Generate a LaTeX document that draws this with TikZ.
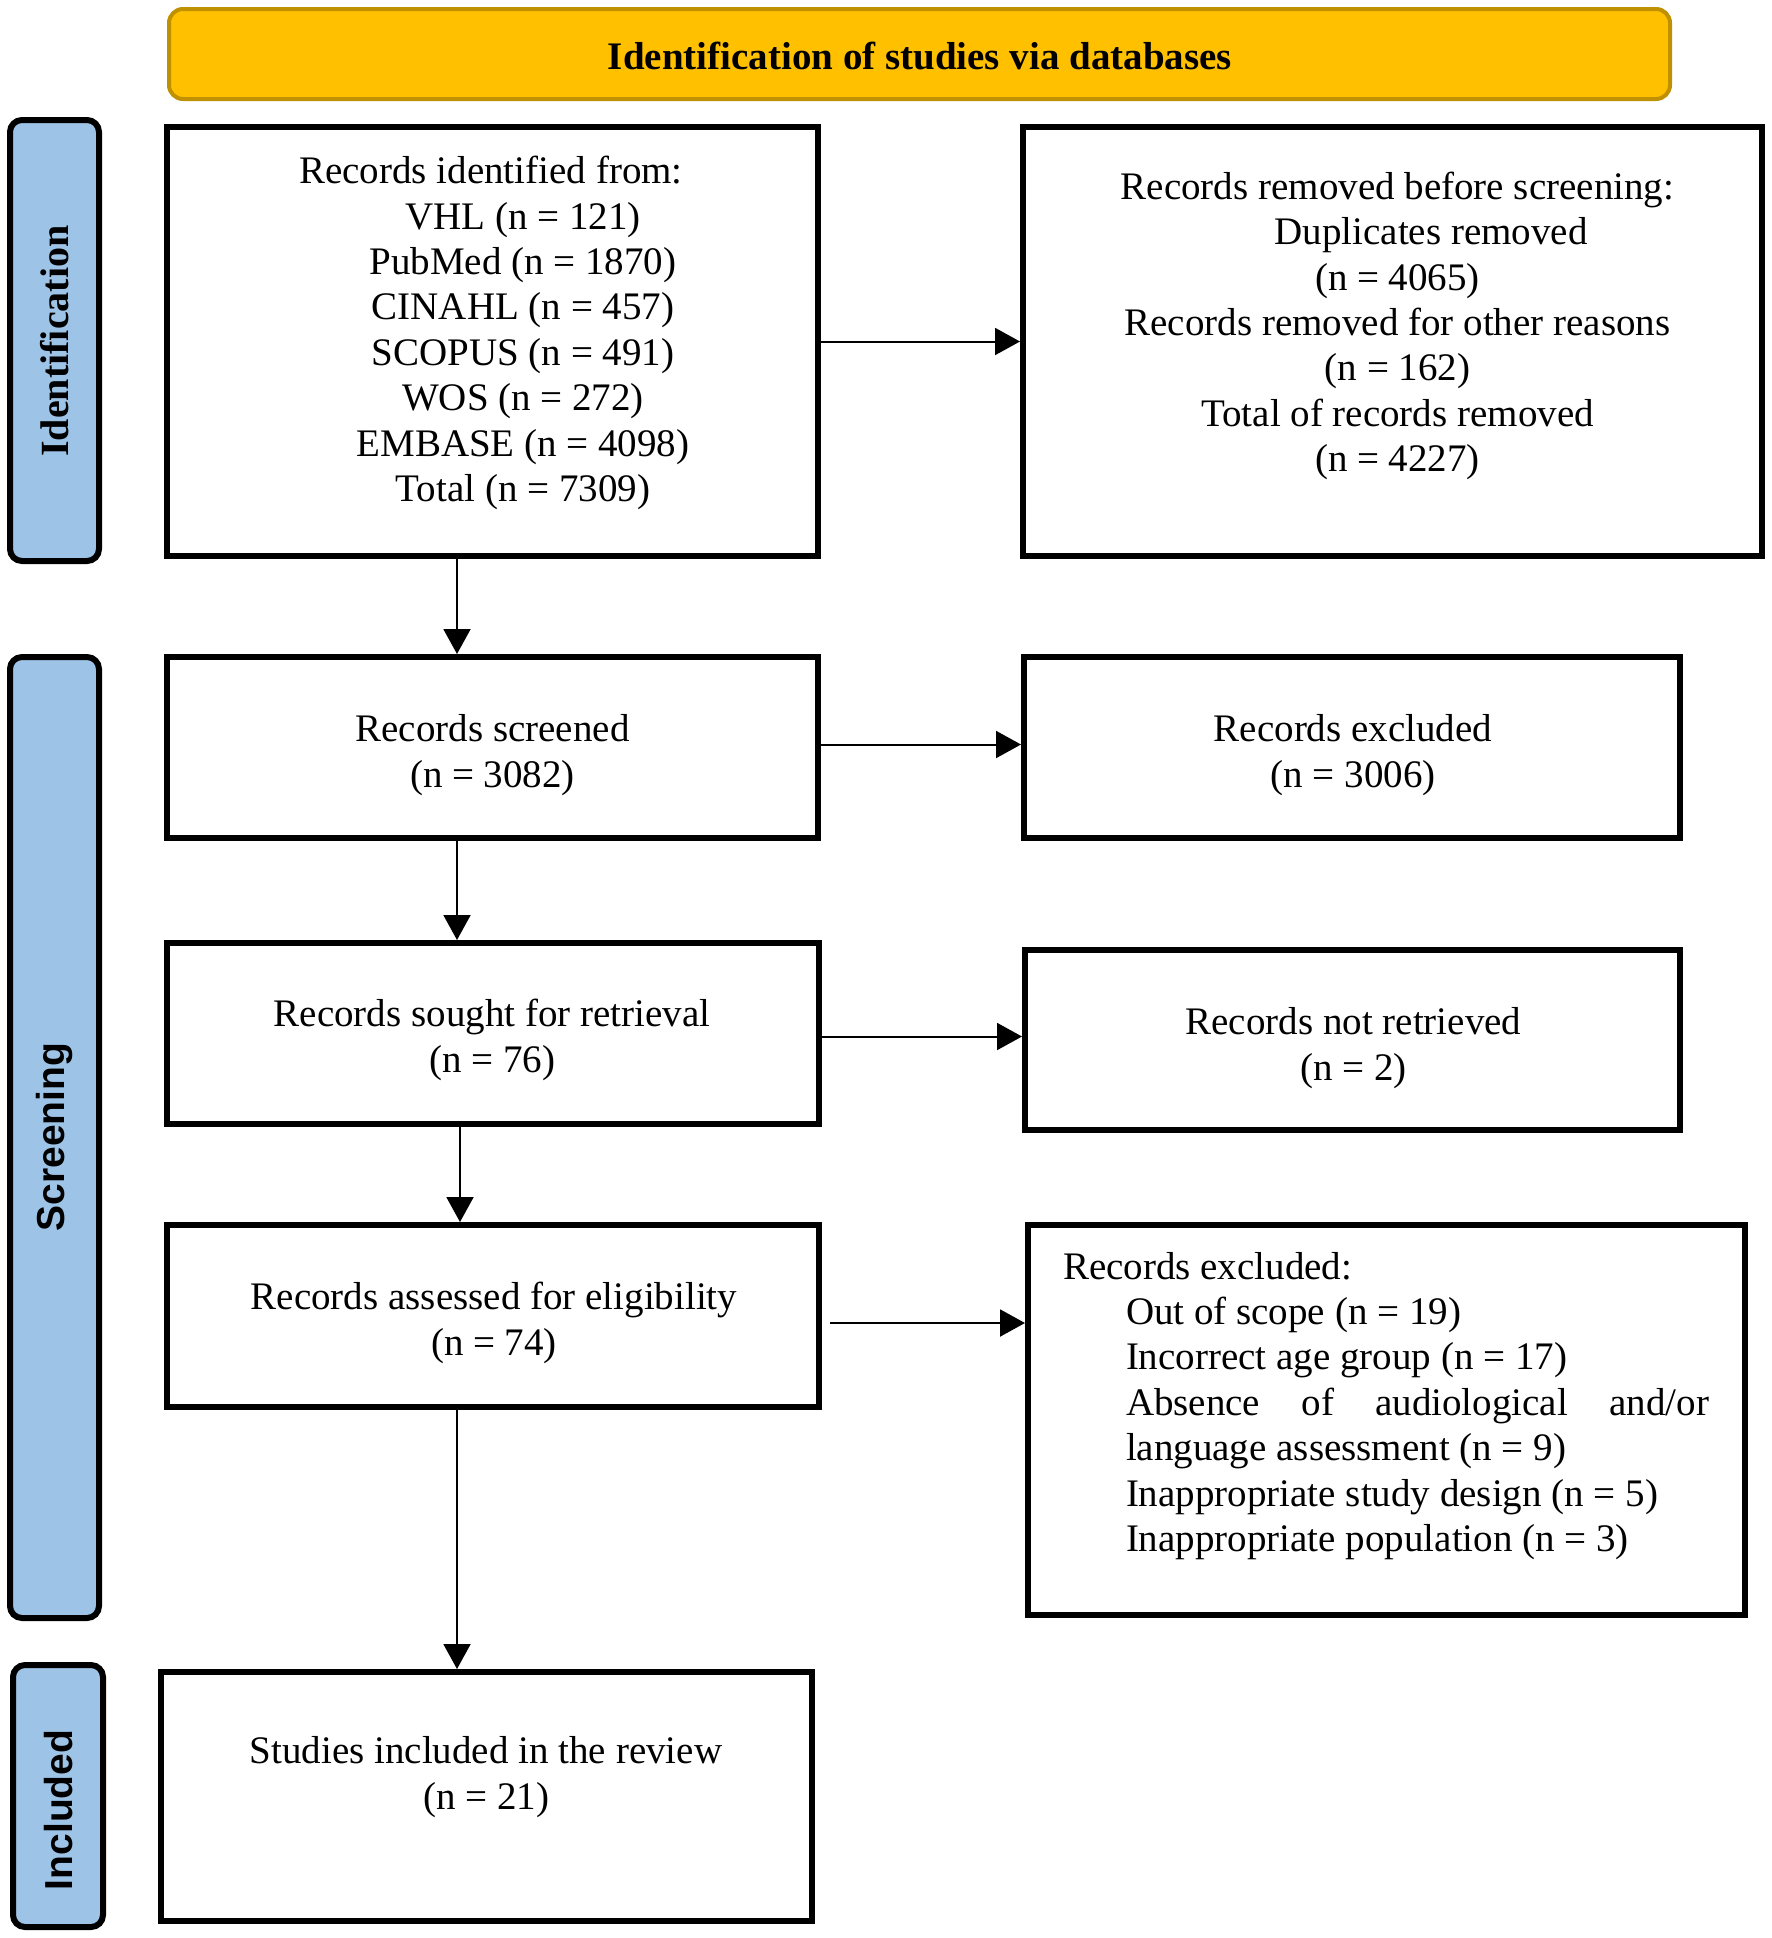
\documentclass[tikz,border=0pt]{standalone}
\usepackage{fontspec}
\setmainfont{Liberation Serif}
\newfontfamily\sidesans{Liberation Sans}
\usetikzlibrary{arrows.meta}
\definecolor{sideblue}{HTML}{9DC3E6}
\definecolor{goldfill}{HTML}{FFC000}
\definecolor{goldline}{HTML}{BF9000}
\begin{document}
\begin{tikzpicture}[x=0.5pt,y=-0.5pt,
  box/.style={draw=black, line width=3pt, fill=white, inner sep=0pt},
  side/.style={draw=black, line width=3pt, fill=sideblue, rounded corners=6pt, inner sep=0pt},
  head/.style={draw=goldline, line width=2pt, fill=goldfill, rounded corners=7pt, inner sep=0pt},
  txt/.style={align=center, inner sep=0pt, font=\fontsize{19.5pt}{22.7pt}\selectfont},
  sidetxt/.style={rotate=90, inner sep=0pt, font=\sidesans\bfseries\fontsize{19.5pt}{22pt}\selectfont},
  arr/.style={-{Triangle[length=12.5pt,width=13.5pt]}, line width=1pt}]
\useasboundingbox (0,0) rectangle (1772,1938);
\fill[white] (0,0) rectangle (1772,1938);

% header
\node[head, minimum width=750.5pt, minimum height=45pt] (hd) at (919.5,54) {};
\node[txt, font=\bfseries\fontsize{19.5pt}{22.7pt}\selectfont] (hdt) at (920,56) {Identification of studies via databases};

% side bars
\node[side, minimum width=44.5pt, minimum height=220.5pt] (s1) at (54.5,340.5) {};
\node[sidetxt, font=\bfseries\fontsize{20pt}{22pt}\selectfont] (s1t) at (54.5,341) {Identification};
\node[side, minimum width=44.5pt, minimum height=480.5pt] (s2) at (54.5,1137.5) {};
\node[sidetxt] (s2t) at (54.5,1137) {Screening};
\node[side, minimum width=45pt, minimum height=131pt] (s3) at (58,1796) {};
\node[sidetxt] (s3t) at (59,1810) {Included};

% boxes
\node[box, minimum width=325.5pt, minimum height=214.5pt] (b1) at (492.5,341.5) {};
\node[box, minimum width=369.5pt, minimum height=214.5pt] (b2) at (1392.5,341.5) {};
\node[box, minimum width=325.5pt, minimum height=90.5pt] (b3) at (492.5,747.5) {};
\node[box, minimum width=328pt, minimum height=90.5pt] (b4) at (1352,747.5) {};
\node[box, minimum width=326pt, minimum height=90.5pt] (b5) at (493,1033.5) {};
\node[box, minimum width=327.5pt, minimum height=90pt] (b6) at (1352.5,1040) {};
\node[box, minimum width=326pt, minimum height=91pt] (b7) at (493,1316) {};
\node[box, minimum width=358.5pt, minimum height=195pt] (b8) at (1386.5,1420) {};
\node[box, minimum width=325.5pt, minimum height=124.5pt] (b9) at (486.5,1796.5) {};

% texts
\node[txt] (t1) at (491,333) {Records identified from:\\
\hspace*{32pt}VHL (n = 121)\\
\hspace*{32pt}PubMed (n = 1870)\\
\hspace*{32pt}CINAHL (n = 457)\\
\hspace*{32pt}SCOPUS (n = 491)\\
\hspace*{32pt}WOS (n = 272)\\
\hspace*{32pt}EMBASE (n = 4098)\\
\hspace*{32pt}Total (n = 7309)};
\node[txt] (t2) at (1397.5,326) {Records removed before screening:\\
\hspace*{33.5pt}Duplicates removed\\
(n = 4065)\\
Records removed for other reasons\\
(n = 162)\\
Total of records removed\\
(n = 4227)};
\node[txt] (t3) at (492.5,755) {Records screened\\(n = 3082)};
\node[txt] (t4) at (1353,755) {Records excluded\\(n = 3006)};
\node[txt] (t5) at (492,1040) {Records sought for retrieval\\(n = 76)};
\node[txt] (t6) at (1353.5,1048) {Records not retrieved\\(n = 2)};
\node[txt] (t7) at (494,1323) {Records assessed for eligibility\\(n = 74)};
\node[txt, align=left] (t8) at (1386,1406) {\parbox{323pt}{Records excluded:\\
\hspace*{31.5pt}Out of scope (n = 19)\\
\hspace*{31.5pt}Incorrect age group (n = 17)\\
\hspace*{31.5pt}Absence of audiological and/or\linebreak
\hspace*{31.5pt}language assessment (n = 9)\\
\hspace*{31.5pt}Inappropriate study design (n = 5)\\
\hspace*{31.5pt}Inappropriate population (n = 3)}};
\node[txt] (t9) at (486,1777) {Studies included in the review\\(n = 21)};

% connectors
\coordinate (vx) at (457,0);
\coordinate (vy) at (460,0);
\draw[arr] (b1.east) -- (b1.east -| b2.west);
\draw[arr] ([yshift=1.5pt]b3.east) -- ([yshift=1.5pt]b3.east -| b4.west);
\draw[arr] ([yshift=-1.5pt]b5.east) -- ([yshift=-1.5pt]b5.east -| b6.west);
\draw[arr, shorten <=4pt] ([yshift=-3.5pt]b7.east) -- ([yshift=-3.5pt]b7.east -| b8.west);
\draw[arr] (b1.south -| vx) -- (b3.north -| vx);
\draw[arr] (b3.south -| vx) -- (b5.north -| vx);
\draw[arr] (b5.south -| vy) -- (b7.north -| vy);
\draw[arr] (b7.south -| vx) -- (b9.north -| vx);
\end{tikzpicture}
\end{document}
